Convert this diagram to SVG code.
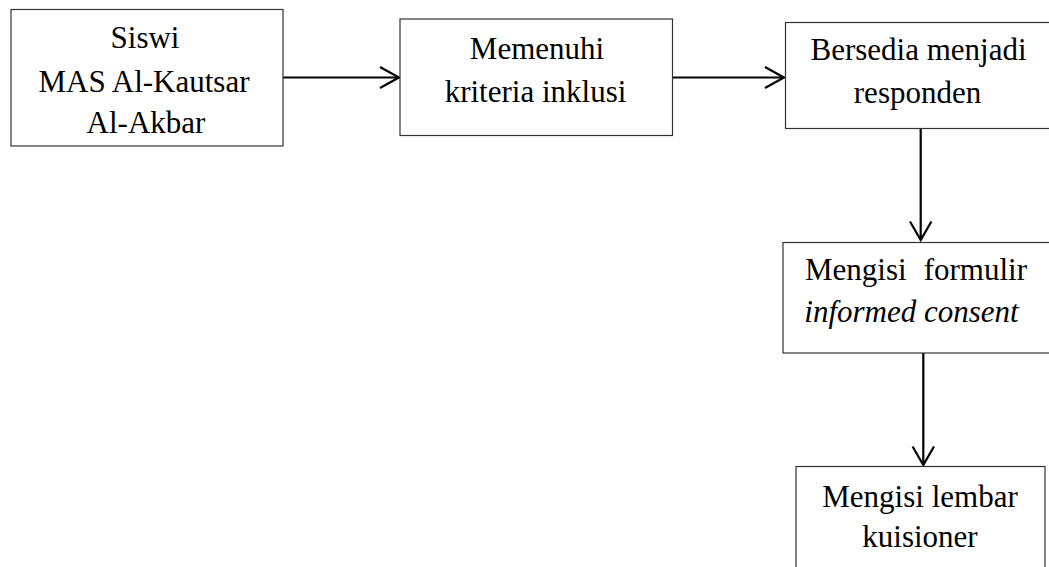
<svg xmlns="http://www.w3.org/2000/svg" width="1049" height="567" viewBox="0 0 1049 567">
<style>
.box{fill:#fff;stroke:#333;stroke-width:1.2}
.t{font-family:"Liberation Serif","Times New Roman",serif;font-size:31px;fill:#000;text-anchor:middle}
.i{font-style:italic}
.ln{stroke:#000;stroke-width:2.2;fill:none}
.hd{stroke:#000;stroke-width:2.2;fill:none;stroke-linejoin:miter}
</style>
<rect width="1049" height="567" fill="#fff"/>
<g id="connectors">
<line class="ln" x1="283" y1="77.5" x2="398" y2="77.5"/>
<polyline class="hd" points="380,67 399,77.5 380,88"/>
<line class="ln" x1="673" y1="77.5" x2="783" y2="77.5"/>
<polyline class="hd" points="765,67 784,77.5 765,88"/>
<line class="ln" x1="920.7" y1="128" x2="920.7" y2="239"/>
<polyline class="hd" points="910,221.5 920.7,240 931.4,221.5"/>
<line class="ln" x1="923.3" y1="353" x2="923.3" y2="464"/>
<polyline class="hd" points="912.6,446.5 923.3,465 934,446.5"/>
</g>
<g id="node1">
<rect class="box" x="11" y="9.5" width="272" height="136.5"/>
<text class="t" x="145" y="48">Siswi</text>
<text class="t" x="144" y="91.5">MAS Al-Kautsar</text>
<text class="t" x="146" y="133">Al-Akbar</text>
</g>
<g id="node2">
<rect class="box" x="400" y="19" width="272.5" height="116.5"/>
<text class="t" x="537" y="59">Memenuhi</text>
<text class="t" x="535.5" y="101.5">kriteria inklusi</text>
</g>
<g id="node3">
<rect class="box" x="785.5" y="22.5" width="270" height="106"/>
<text class="t" x="918.5" y="60">Bersedia menjadi</text>
<text class="t" x="917.5" y="103">responden</text>
</g>
<g id="node4">
<rect class="box" x="783" y="242.5" width="272" height="110.5"/>
<text class="t" x="805" y="280" text-anchor="start" style="text-anchor:start">Mengisi<tspan x="1027" style="text-anchor:end">formulir</tspan></text>
<text class="t i" x="911.5" y="321.5">informed consent</text>
</g>
<g id="node5">
<rect class="box" x="796" y="466.5" width="249" height="110"/>
<text class="t" x="920" y="506.5">Mengisi lembar</text>
<text class="t" x="920" y="546.5">kuisioner</text>
</g>
</svg>
